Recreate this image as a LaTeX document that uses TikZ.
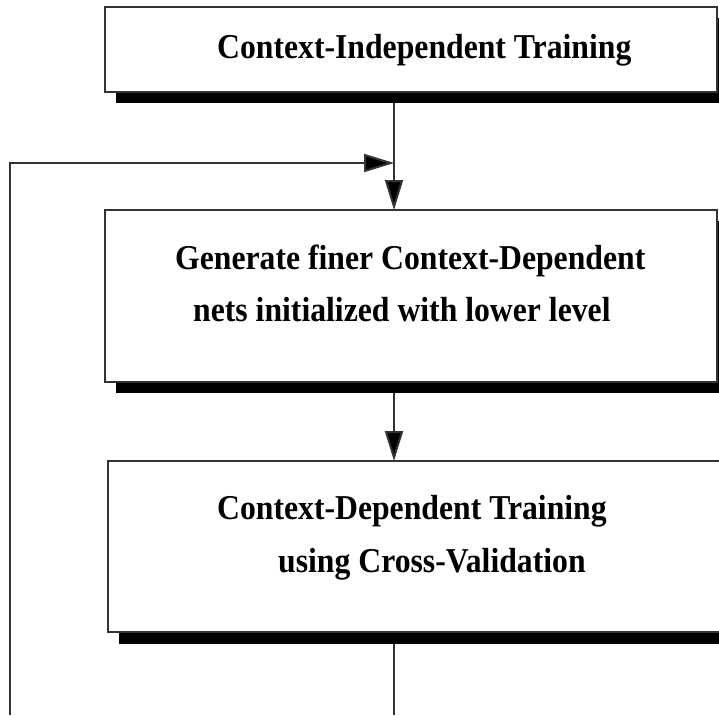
\documentclass[tikz,border=0pt]{standalone}
\usepackage{fontspec}
\setmainfont{Liberation Serif}
\usetikzlibrary{arrows.meta}
\newcommand{\tall}[1]{\scalebox{1}[1.1]{#1}}
\tikzset{
  linecol/.style={draw=black!80, line width=2pt},
  stagebox/.style={linecol, fill=white},
  stageshadow/.style={fill=black},
  flow/.style={linecol, -{Triangle[length=30pt, width=18pt, fill=black]}},
  label/.style={anchor=base west, inner sep=0pt, font=\fontsize{31.7}{36}\selectfont\bfseries},
}
\begin{document}
\begin{tikzpicture}[x=1pt, y=-1pt]
\useasboundingbox (0,0) rectangle (719,715);
\clip (0,0) rectangle (719,715);

% stage 1
\fill[stageshadow] (116,18) rectangle (728,103);
\draw[stagebox] (105,7) rectangle (717,92);
\node[label] (t1) at (217,58) {\tall{Context-Independent Training}};

% stage 2
\fill[stageshadow] (116,221) rectangle (728,393);
\draw[stagebox] (105,210) rectangle (717,382);
\node[label] (t2a) at (175,269) {\tall{Generate finer Context-Dependent}};
\node[label] (t2b) at (193,321) {\tall{nets initialized with lower level}};

% stage 3
\fill[stageshadow] (119,472) rectangle (732,644);
\draw[stagebox] (108,461) rectangle (721,632);
\node[label] (t3a) at (217,519) {\tall{Context-Dependent Training}};
\node[label] (t3b) at (278,572) {\tall{using Cross-Validation}};

% connectors
\coordinate (s1) at (394,103);
\coordinate (top2) at (394,210);
\coordinate (s2) at (394,393);
\coordinate (top3) at (394,461);
\coordinate (s3) at (394,644);
\coordinate (out) at (394,715);
\coordinate (loopb) at (10,715);
\coordinate (loopt) at (10,163);
\coordinate (join) at (394,163);

\draw[flow] (s1) -- (top2);
\draw[flow] (s2) -- (top3);
\draw[linecol] (s3) -- (out);
\draw[flow] (loopb) -- (loopt) -- (join);
\end{tikzpicture}
\end{document}
